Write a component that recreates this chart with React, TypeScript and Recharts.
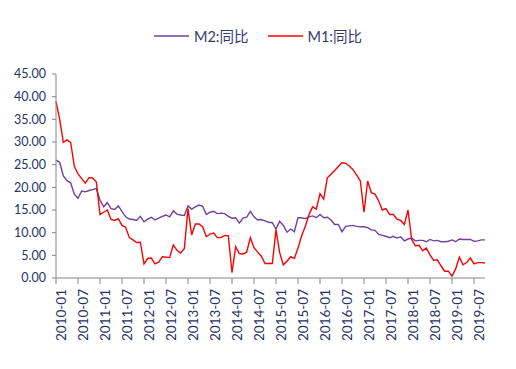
import { Legend, Line, LineChart, XAxis, YAxis } from 'recharts'

const YEARS = ['2010', '2011', '2012', '2013', '2014', '2015', '2016', '2017', '2018', '2019']
const MONTHS = ['01', '02', '03', '04', '05', '06', '07', '08', '09', '10', '11', '12']

// M2 同比, 2010-01 .. 2019-10
const M2 = [
  25.98, 25.52, 22.5, 21.48, 21.0, 18.5, 17.6, 19.2, 19.0, 19.3, 19.5, 19.7,
  17.2, 15.7, 16.6, 15.3, 15.1, 15.9, 14.7, 13.5, 13.0, 12.9, 12.7, 13.6,
  12.4, 13.0, 13.4, 12.8, 13.2, 13.6, 13.9, 13.5, 14.8, 14.1, 13.9, 13.8,
  15.9, 15.2, 15.7, 16.1, 15.8, 14.0, 14.5, 14.7, 14.2, 14.3, 14.2, 13.6,
  13.2, 13.3, 12.1, 13.2, 13.4, 14.7, 13.5, 12.8, 12.9, 12.6, 12.3, 12.2,
  10.8, 12.5, 11.6, 10.1, 10.8, 10.2, 13.3, 13.3, 13.1, 13.5, 13.7, 13.3,
  14.0, 13.3, 13.4, 12.8, 11.8, 11.8, 10.2, 11.4, 11.5, 11.6, 11.4, 11.3,
  11.3, 11.1, 10.6, 10.5, 9.6, 9.4, 9.2, 8.9, 9.2, 8.8, 9.1, 8.2,
  8.6, 8.8, 8.2, 8.3, 8.3, 8.0, 8.5, 8.2, 8.3, 8.0, 8.0, 8.1,
  8.4, 8.0, 8.6, 8.5, 8.5, 8.5, 8.1, 8.2, 8.4, 8.4
]

// M1 同比
const M1 = [
  38.96, 34.99, 29.94, 30.48, 29.93, 24.64, 22.97, 21.92, 20.94, 22.14, 22.07, 21.19,
  14.0, 14.5, 15.0, 12.9, 12.7, 13.1, 11.6, 11.2, 8.9, 8.4, 7.8, 7.9,
  3.1, 4.3, 4.4, 3.1, 3.5, 4.7, 4.6, 4.5, 7.3, 6.1, 5.5, 6.5,
  15.3, 9.5, 11.9, 11.9, 11.3, 9.1, 9.7, 9.9, 8.9, 8.9, 9.4, 9.3,
  1.2, 6.9, 5.4, 5.3, 5.7, 8.9, 6.7, 5.7, 4.8, 3.2, 3.2, 3.2,
  10.6, 5.6, 2.9, 3.7, 4.7, 4.3, 6.6, 9.3, 11.4, 14.0, 15.7, 15.2,
  18.6, 17.4, 22.1, 22.9, 23.7, 24.6, 25.4, 25.3, 24.7, 23.9, 22.7, 21.4,
  14.5, 21.4, 18.8, 18.5, 17.0, 15.0, 15.3, 14.0, 14.0, 13.0, 12.7, 11.8,
  15.0, 8.5, 7.1, 7.2, 6.0, 6.6, 5.1, 3.9, 4.0, 2.7, 1.5, 1.5,
  0.4, 2.0, 4.6, 2.9, 3.4, 4.4, 3.1, 3.4, 3.4, 3.3
]

const Y_TICKS = [0, 5, 10, 15, 20, 25, 30, 35, 40, 45]
const SERIES_ORDER = ['m2', 'm1']

const DATES = YEARS.flatMap((y) => MONTHS.map((m) => `${y}-${m}`)).slice(0, M2.length)

const data = DATES.map((date, i) => ({ date, m2: M2[i], m1: M1[i] }))

const TEXT = '#1f3366'
const AXIS = '#868686'
const FONT = "Lato, 'Noto Sans CJK SC', sans-serif"

const LegendContent = ({ payload }: any) => {
  const items = [...(payload || [])].sort(
    (a: any, b: any) => SERIES_ORDER.indexOf(a.dataKey) - SERIES_ORDER.indexOf(b.dataKey)
  )
  return (
    <div style={{ display: 'flex', justifyContent: 'center', alignItems: 'center', fontFamily: FONT }}>
      {items.map((p: any, i: number) => (
        <div key={i} style={{ display: 'flex', alignItems: 'center', marginLeft: i ? 19 : 0 }}>
          <svg width={35} height={4}>
            <line x1={0} y1={2} x2={35} y2={2} stroke={p.color} strokeWidth={1.5} />
          </svg>
          <span style={{ marginLeft: 5, fontSize: 14.5, color: '#333a6e' }}>{p.value}</span>
        </div>
      ))}
    </div>
  )
}

export default function App() {
  return (
    <div style={{ position: 'absolute', left: 0, top: 0, background: '#fff' }}>
      <LineChart width={516} height={369} data={data} margin={{ top: 74, right: 31, bottom: 21, left: 6 }}>
        <XAxis
          dataKey="date"
          interval={5}
          height={70}
          stroke={AXIS}
          tickSize={6}
          tickMargin={5}
          tick={{ angle: -90, textAnchor: 'end', verticalAnchor: 'middle', fontSize: 13.5, fill: TEXT, fontFamily: FONT }}
        />
        <YAxis
          domain={[0, 45]}
          ticks={Y_TICKS}
          width={50}
          stroke={AXIS}
          tickSize={4}
          tickMargin={6}
          tickFormatter={(v: number) => v.toFixed(2)}
          tick={{ fontSize: 12.5, fill: TEXT, fontFamily: FONT }}
        />
        <Legend
          verticalAlign="middle"
          align="center"
          wrapperStyle={{ top: 25, left: 0, width: 516 }}
          content={<LegendContent />}
        />
        <Line dataKey="m2" name="M2:同比" stroke="#7040a0" strokeWidth={1.4} dot={false} isAnimationActive={false} />
        <Line dataKey="m1" name="M1:同比" stroke="#ff0000" strokeWidth={1.4} dot={false} isAnimationActive={false} />
      </LineChart>
    </div>
  )
}
